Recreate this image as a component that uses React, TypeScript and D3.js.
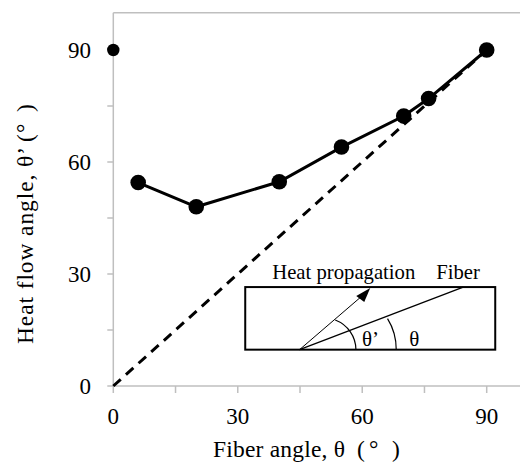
import * as d3 from "d3";

// Measured heat-flow angle vs fiber angle
const fiberAngle = [6, 20, 40, 55, 70, 76, 90];
const heatAngle = [54.5, 48, 54.7, 64, 72.3, 77, 90];
// isolated point at 0°
const isoPoint = [{ x: 0, y: 90 }];
// reference line θ' = θ
const refLine = [{ x: 0, y: 0 }, { x: 90, y: 90 }];

const xMajor = [0, 30, 60, 90];
const xMinor = [15, 45, 75];
const yMajor = [0, 30, 60, 90];
const yMinor = [15, 45, 75];

const W = 520;
const H = 465;
const FONT = "'Liberation Serif', 'Times New Roman', serif";
const AXIS = "#bfbfbf";

export default function App() {
  const x = d3.scaleLinear().domain([0, 90]).range([113.3, 486.7]);
  const y = d3.scaleLinear().domain([0, 90]).range([386, 50]);

  const pts = fiberAngle.map((f, i) => ({ x: f, y: heatAngle[i] }));
  const line = d3
    .line<{ x: number; y: number }>()
    .x((d) => x(d.x))
    .y((d) => y(d.y));

  const x0 = x(0);
  const y0 = y(0);
  const yTop = y(100);

  // inset schematic, placed in data space
  const bx = x(31.8);
  const by = y(26.5);
  const bw = 250;
  const bh = 62.6;
  const ox = bx + 54.3; // origin of arrows
  const oy = by + bh;

  return (
    <svg
      width={W}
      height={H}
      style={{ position: "absolute", left: 0, top: 0, background: "#fff" }}
      fontFamily={FONT}
    >
      {/* frame */}
      <line x1={x0} x2={W} y1={yTop} y2={yTop} stroke={AXIS} strokeWidth={1.5} />
      <line x1={x0} x2={W} y1={y0} y2={y0} stroke={AXIS} strokeWidth={1.5} />
      <line x1={x0} x2={x0} y1={yTop} y2={y0} stroke={AXIS} strokeWidth={1.5} />

      {/* x ticks */}
      {[...xMajor, ...xMinor].map((t) => (
        <line key={"xt" + t} x1={x(t)} x2={x(t)} y1={y0} y2={y0 + 7} stroke={AXIS} strokeWidth={1.5} />
      ))}
      {xMajor.map((t) => (
        <text key={"xl" + t} x={x(t)} y={424} fontSize={23} textAnchor="middle">
          {t}
        </text>
      ))}

      {/* y ticks */}
      {[...yMajor, ...yMinor].map((t) => (
        <line key={"yt" + t} x1={x0 - 6} x2={x0} y1={y(t)} y2={y(t)} stroke={AXIS} strokeWidth={1.5} />
      ))}
      {yMajor.map((t) => (
        <text key={"yl" + t} x={91} y={y(t)} dy="0.34em" fontSize={23} textAnchor="end">
          {t}
        </text>
      ))}

      {/* axis titles */}
      <text y={457} fontSize={23.5}>
        <tspan x={213} textLength={132} lengthAdjust="spacing">
          Fiber angle, θ
        </tspan>
        <tspan x={357}>(</tspan>
        <tspan x={369}>°</tspan>
        <tspan x={392}>)</tspan>
      </text>
      <text transform="translate(33,344) rotate(-90)" fontSize={23.5}>
        <tspan x={0} textLength={197} lengthAdjust="spacing">
          Heat flow angle, θ’
        </tspan>
        <tspan x={202}>(</tspan>
        <tspan x={211}>°</tspan>
        <tspan x={232}>)</tspan>
      </text>

      {/* reference dashed line */}
      <path d={line(refLine) ?? ""} fill="none" stroke="#000" strokeWidth={3} strokeDasharray="10 7" />

      {/* data */}
      <path d={line(pts) ?? ""} fill="none" stroke="#000" strokeWidth={3} />
      {pts.map((d, i) => (
        <circle key={i} cx={x(d.x)} cy={y(d.y)} r={7.8} fill="#000" />
      ))}
      {isoPoint.map((d, i) => (
        <circle key={"iso" + i} cx={x(d.x)} cy={y(d.y)} r={6.2} fill="#000" />
      ))}

      {/* inset */}
      <rect x={bx} y={by} width={bw} height={bh} fill="#fff" stroke="#000" strokeWidth={2} />
      <line x1={ox} y1={oy} x2={bx + 218} y2={by} stroke="#000" strokeWidth={1.3} />
      <line x1={ox} y1={oy} x2={bx + 119} y2={by + 7} stroke="#000" strokeWidth={1} />
      <path
        d={`M${bx + 125},${by + 1} L${bx + 111},${by + 9} L${bx + 119},${by + 15} Z`}
        fill="#000"
      />
      <path
        d={`M${ox + 35.7},${oy - 29.7} A32,32 0 0 1 ${ox + 56.4},${oy}`}
        fill="none"
        stroke="#000"
        strokeWidth={1.2}
      />
      <path
        d={`M${ox + 88},${oy - 31} A58.5,58.5 0 0 1 ${ox + 96.7},${oy}`}
        fill="none"
        stroke="#000"
        strokeWidth={1.2}
      />
      <text x={bx + 116.7} y={oy - 4} fontSize={21}>
        θ’
      </text>
      <text x={bx + 164} y={oy - 4} fontSize={21}>
        θ
      </text>
      <text x={bx + 27} y={by - 8} fontSize={20.7}>
        Heat propagation
      </text>
      <text x={bx + 191} y={by - 8} fontSize={20.7}>
        Fiber
      </text>
    </svg>
  );
}
